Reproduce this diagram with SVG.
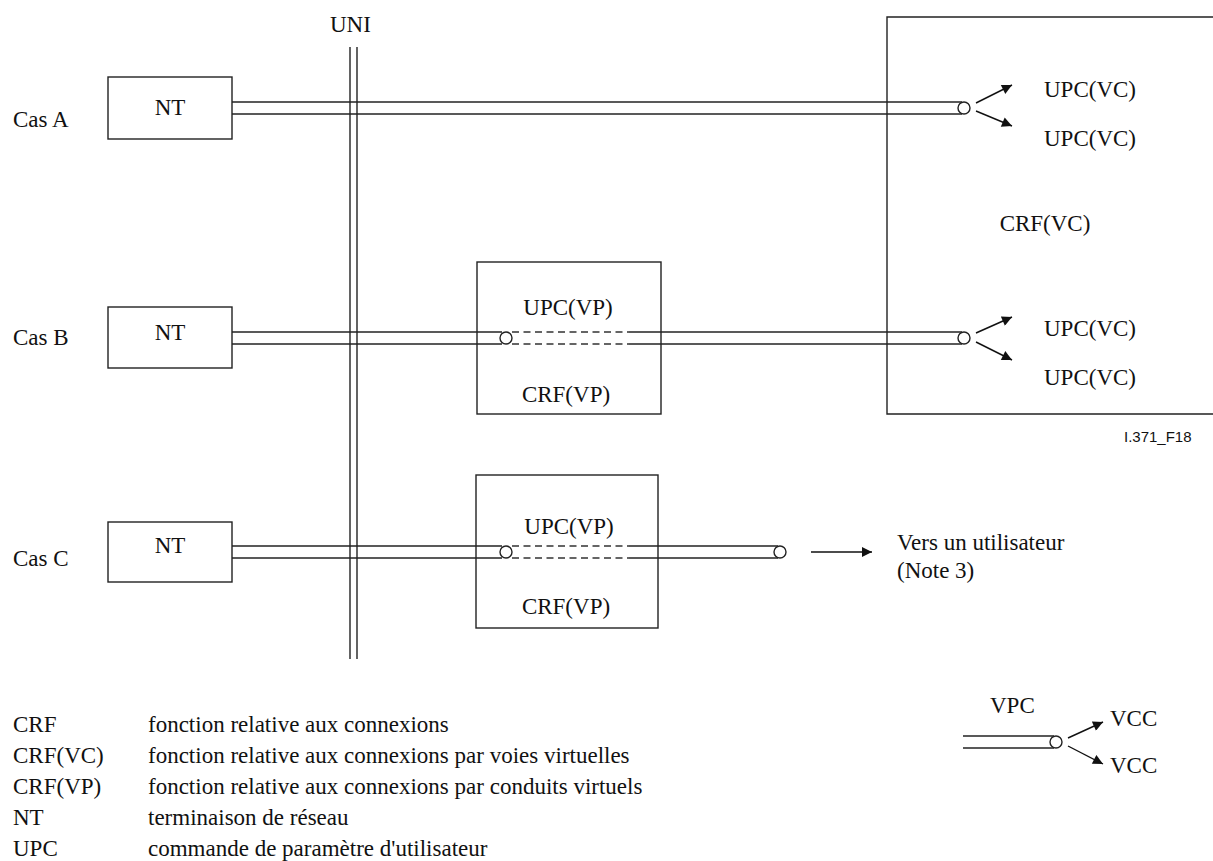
<svg xmlns="http://www.w3.org/2000/svg" width="1213" height="861" viewBox="0 0 1213 861">
<style>
.t{font-family:"Liberation Serif","Times New Roman",serif;font-size:23px;fill:#111}
.s{font-family:"Liberation Sans",Arial,sans-serif;font-size:15px;fill:#111}
.ln{stroke:#222;stroke-width:1.4;fill:none}
.bx{stroke:#222;stroke-width:1.4;fill:none}
.ds{stroke:#333;stroke-width:1.4;fill:none;stroke-dasharray:7 4.5}
.c{stroke:#222;stroke-width:1.4;fill:#fff}
.ar{stroke:#111;stroke-width:1.4;fill:none;marker-end:url(#ah)}
</style>
<defs>
<marker id="ah" viewBox="0 0 10 10" refX="10" refY="5" markerWidth="13" markerHeight="10" markerUnits="userSpaceOnUse" orient="auto">
<path d="M0,0 L10,5 L0,10 z" fill="#111"/>
</marker>
</defs>
<rect width="1213" height="861" fill="#fff"/>

<g id="uni">
<text class="t" x="330" y="32">UNI</text>
<line class="ln" x1="350" y1="47" x2="350" y2="659"/>
<line class="ln" x1="357" y1="47" x2="357" y2="659"/>
</g>

<g id="crf-vc">
<path class="bx" d="M1214,17 H887 V414 H1214"/>
<text class="t" x="1045" y="231" text-anchor="middle">CRF(VC)</text>
<text class="t" x="1044" y="97">UPC(VC)</text>
<text class="t" x="1044" y="146">UPC(VC)</text>
<text class="t" x="1044" y="336">UPC(VC)</text>
<text class="t" x="1044" y="385">UPC(VC)</text>
</g>

<g id="labels">
<text class="t" x="13" y="127">Cas A</text>
<text class="t" x="13" y="345">Cas B</text>
<text class="t" x="13" y="566">Cas C</text>
<text class="s" x="1124" y="442">I.371_F18</text>
</g>

<g id="nt-a">
<rect class="bx" x="108" y="77" width="124" height="62"/>
<text class="t" x="170" y="115" text-anchor="middle">NT</text>
</g>
<g id="nt-b">
<rect class="bx" x="108" y="307" width="124" height="61"/>
<text class="t" x="170" y="340" text-anchor="middle">NT</text>
</g>
<g id="nt-c">
<rect class="bx" x="108" y="522" width="124" height="60"/>
<text class="t" x="170" y="553" text-anchor="middle">NT</text>
</g>

<g id="crf-vp-b">
<rect class="bx" x="477" y="262" width="184" height="152"/>
<text class="t" x="568" y="315" text-anchor="middle">UPC(VP)</text>
<text class="t" x="566" y="402" text-anchor="middle">CRF(VP)</text>
</g>
<g id="crf-vp-c">
<rect class="bx" x="476" y="475" width="182" height="153"/>
<text class="t" x="569" y="534" text-anchor="middle">UPC(VP)</text>
<text class="t" x="566" y="614" text-anchor="middle">CRF(VP)</text>
</g>

<g id="user-c">
<text class="t" x="897" y="550">Vers un utilisateur</text>
<text class="t" x="897" y="578">(Note 3)</text>
</g>

<g id="connectors">
<!-- Cas A -->
<line class="ln" x1="232" y1="102" x2="962" y2="102"/>
<line class="ln" x1="232" y1="114" x2="962" y2="114"/>
<circle class="c" cx="964" cy="108" r="6"/>
<line class="ar" x1="976" y1="103" x2="1012" y2="85"/>
<line class="ar" x1="976" y1="111" x2="1012" y2="126"/>
<!-- Cas B -->
<line class="ln" x1="232" y1="332" x2="502" y2="332"/>
<line class="ln" x1="232" y1="344" x2="502" y2="344"/>
<line class="ds" x1="512" y1="332" x2="629" y2="332"/>
<line class="ds" x1="512" y1="344" x2="629" y2="344"/>
<line class="ln" x1="629" y1="332" x2="962" y2="332"/>
<line class="ln" x1="629" y1="344" x2="962" y2="344"/>
<circle class="c" cx="506" cy="338" r="6"/>
<circle class="c" cx="964" cy="338" r="6"/>
<line class="ar" x1="976" y1="333" x2="1012" y2="317"/>
<line class="ar" x1="976" y1="342" x2="1012" y2="360"/>
<!-- Cas C -->
<line class="ln" x1="232" y1="546" x2="502" y2="546"/>
<line class="ln" x1="232" y1="558" x2="502" y2="558"/>
<line class="ds" x1="512" y1="546" x2="629" y2="546"/>
<line class="ds" x1="512" y1="558" x2="629" y2="558"/>
<line class="ln" x1="629" y1="546" x2="778" y2="546"/>
<line class="ln" x1="629" y1="558" x2="778" y2="558"/>
<circle class="c" cx="506" cy="552" r="6"/>
<circle class="c" cx="780" cy="552" r="6"/>
<line class="ar" x1="811" y1="552" x2="872" y2="552"/>
<!-- legend symbol -->
<line class="ln" x1="963" y1="736" x2="1054" y2="736"/>
<line class="ln" x1="963" y1="748" x2="1054" y2="748"/>
<circle class="c" cx="1056" cy="742" r="6"/>
<line class="ar" x1="1068" y1="738" x2="1103" y2="722"/>
<line class="ar" x1="1068" y1="746" x2="1103" y2="764"/>
</g>

<g id="legend-symbol">
<text class="t" x="990" y="713">VPC</text>
<text class="t" x="1110" y="726">VCC</text>
<text class="t" x="1110" y="773">VCC</text>
</g>

<g id="legend">
<text class="t" x="13" y="732">CRF</text>
<text class="t" x="148" y="732">fonction relative aux connexions</text>
<text class="t" x="13" y="763">CRF(VC)</text>
<text class="t" x="148" y="763">fonction relative aux connexions par voies virtuelles</text>
<text class="t" x="13" y="794">CRF(VP)</text>
<text class="t" x="148" y="794">fonction relative aux connexions par conduits virtuels</text>
<text class="t" x="13" y="825">NT</text>
<text class="t" x="148" y="825">terminaison de réseau</text>
<text class="t" x="13" y="856">UPC</text>
<text class="t" x="148" y="856">commande de paramètre d'utilisateur</text>
</g>
</svg>
